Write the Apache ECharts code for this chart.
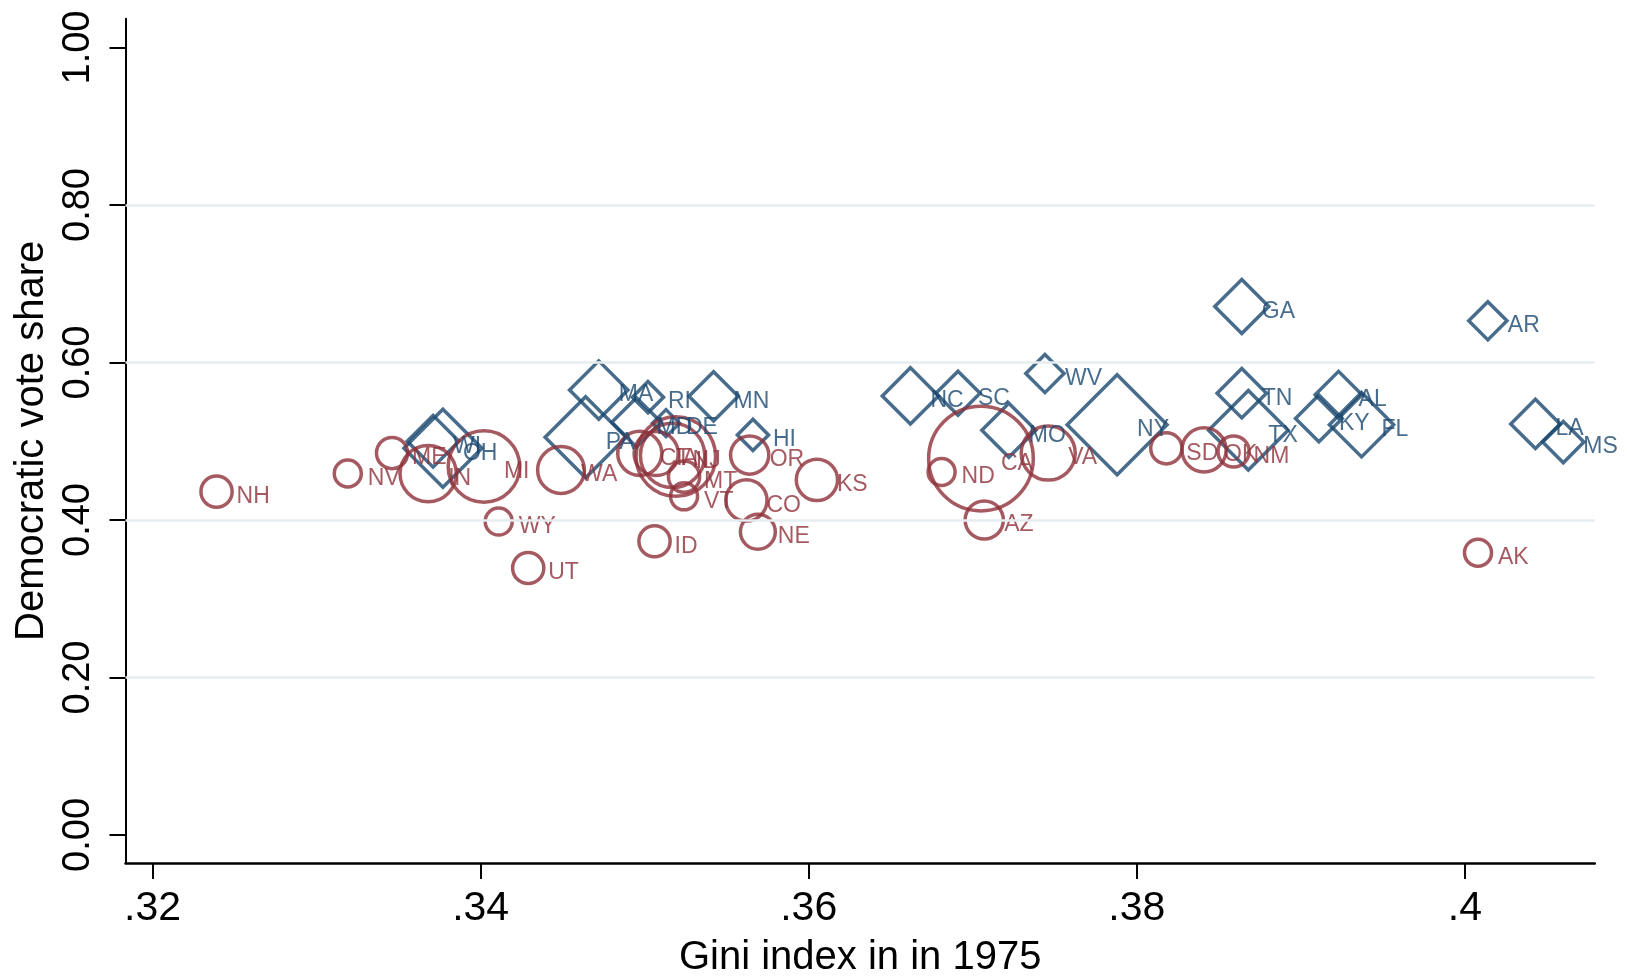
<!DOCTYPE html>
<html>
<head>
<meta charset="utf-8">
<script src="https://cdn.jsdelivr.net/npm/echarts@6/dist/echarts.min.js"></script>
<style>
html,body{margin:0;padding:0;background:#fff;}
#chart{width:1627px;height:977px;}
</style>
</head>
<body>
<div id="chart"></div>
<script>
// Democratic (Carter) won states — blue diamonds
const demStates = ['WI','OH','MA','PA','RI','MD','DE','MN','HI','NC','SC','MO','WV','NY','GA','TN','TX','AL','KY','FL','AR','LA','MS'];
const demGini   = [0.3371,0.3377,0.3472,0.3464,0.3502,0.3495,0.3513,0.3542,0.3566,0.3662,0.3691,0.3722,0.3744,0.3788,0.3864,0.3864,0.3868,0.3923,0.3911,0.3937,0.4014,0.4043,0.4060];
const demShare  = [0.500,0.491,0.565,0.505,0.556,0.524,0.523,0.557,0.508,0.5575,0.561,0.514,0.586,0.521,0.671,0.561,0.514,0.559,0.529,0.521,0.653,0.522,0.499];
const demEV     = [11,25,14,27,4,10,3,10,4,13,8,12,6,41,12,10,26,9,9,17,6,10,7];

// Republican (Ford) won states — red circles
const repStates = ['NH','NV','ME','IN','MI','WY','UT','WA','CT','IL','NJ','IA','MT','VT','ID','OR','CO','NE','KS','ND','CA','AZ','VA','SD','OK','NM','AK'];
const repGini   = [0.3239,0.3319,0.3346,0.3368,0.3402,0.3411,0.3429,0.3449,0.3497,0.3519,0.3517,0.3507,0.3524,0.3524,0.3506,0.3564,0.3562,0.3569,0.3605,0.3681,0.3705,0.3707,0.3746,0.3818,0.3841,0.3859,0.4008];
const repShare  = [0.436,0.459,0.485,0.459,0.468,0.398,0.339,0.4635,0.4846,0.4806,0.482,0.4844,0.455,0.430,0.373,0.4825,0.425,0.385,0.451,0.461,0.478,0.400,0.485,0.491,0.489,0.487,0.3585];
const repEV     = [4,3,4,13,21,3,4,9,8,26,17,8,4,3,4,6,7,5,7,3,45,6,12,4,8,4,3];

const xTicks = [0.32,0.34,0.36,0.38,0.40];
const xTickLabels = ['.32','.34','.36','.38','.4'];
const yTicks = [0,0.2,0.4,0.6,0.8,1.0];
const yTickLabels = ['0.00','0.20','0.40','0.60','0.80','1.00'];
const gridLines = [0.2,0.4,0.6,0.8];

const BLUE = '#1a476f', RED = '#8e3139';
const FONT = '"Liberation Sans", Arial, Helvetica, sans-serif';
const sizeOf = ev => 15.6 * Math.sqrt(ev);

function build(states, gini, share, ev){
  return states.map((s,i)=>({name:s, value:[gini[i], share[i], ev[i]]}));
}
function labelCfg(color){
  return {show:true, position:'inside', align:'left', verticalAlign:'middle',
    offset:[20,5], formatter: p=>p.name, color: color, fontFamily: FONT, fontSize: 23};
}

const chart = echarts.init(document.getElementById('chart'), null, {renderer:'canvas'});
chart.setOption({
  animation:false,
  backgroundColor:'#fff',
  grid:{left:125.5, right:32.2, top:18.7, bottom:114, containLabel:false, outerBoundsMode:'none'},
  xAxis:{
    type:'value', min:0.31835, max:0.40792,
    name:'Gini index in in 1975', nameLocation:'middle', nameGap:75,
    nameTextStyle:{fontFamily:FONT, fontSize:40, color:'#000'},
    axisLine:{show:true, onZero:false, lineStyle:{color:'#000', width:2.5}},
    axisTick:{show:true, length:16, customValues:xTicks, lineStyle:{color:'#000', width:2}},
    axisLabel:{show:true, customValues:xTicks, margin:25, fontFamily:FONT, fontSize:41, color:'#000',
      formatter: v => { const i = xTicks.findIndex(t=>Math.abs(t-v)<1e-9); return i>=0 ? xTickLabels[i] : ''; }},
    splitLine:{show:false}
  },
  yAxis:{
    type:'value', min:-0.0356, max:1.0366,
    name:'Democratic vote share', nameLocation:'middle', nameGap:74, nameRotate:90,
    nameTextStyle:{fontFamily:FONT, fontSize:40, color:'#000'},
    axisLine:{show:true, onZero:false, lineStyle:{color:'#000', width:2}},
    axisTick:{show:true, length:16, customValues:yTicks, lineStyle:{color:'#000', width:2}},
    axisLabel:{show:true, customValues:yTicks, rotate:90, margin:28, fontFamily:FONT, fontSize:38, color:'#000',
      formatter: v => { const i = yTicks.findIndex(t=>Math.abs(t-v)<1e-9); return i>=0 ? yTickLabels[i] : ''; }},
    splitLine:{show:false}
  },
  series:[
    {
      type:'scatter', name:'grid', data:[], silent:true,
      markLine:{silent:true, symbol:['none','none'], label:{show:false},
        lineStyle:{color:'#e6edf1', width:2.5, type:'solid'},
        data: gridLines.map(v=>({yAxis:v}))}
    },
    {
      type:'scatter', name:'Democratic win', symbol:'diamond',
      data: build(demStates, demGini, demShare, demEV),
      symbolSize: v => sizeOf(v[2]),
      itemStyle:{color:'rgba(0,0,0,0)', borderColor:BLUE, borderWidth:3.5},
      label: labelCfg(BLUE)
    },
    {
      type:'scatter', name:'Republican win', symbol:'circle',
      data: build(repStates, repGini, repShare, repEV),
      symbolSize: v => sizeOf(v[2]),
      itemStyle:{color:'rgba(0,0,0,0)', borderColor:RED, borderWidth:3.5},
      label: labelCfg(RED)
    }
  ]
});
</script>
</body>
</html>
